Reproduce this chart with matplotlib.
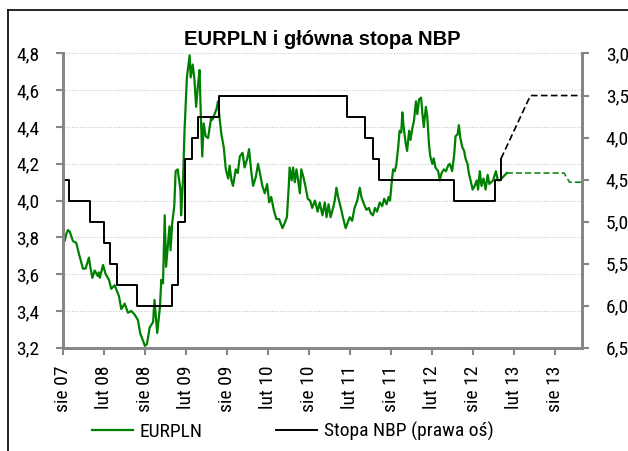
import matplotlib
matplotlib.use('Agg')
import matplotlib.pyplot as plt
import matplotlib.ticker as mticker
from matplotlib.lines import Line2D
import numpy as np
import pandas as pd

# EURPLN - odczyt z wykresu: miesiace od 2007-08-01 i kurs
eur_m = [0.0, 0.24, 0.5, 0.73, 1.0, 1.46, 1.95, 2.34, 2.7, 2.93, 3.3, 3.8, 4.0, 4.3, 4.64,
         5.1, 5.25, 5.4, 5.86, 6.25, 6.73, 7.07, 7.57, 8.2, 8.54, 9.03, 9.52, 10.0, 10.5,
         10.98, 11.3, 11.7, 12.0, 12.3, 12.7, 13.2, 13.4, 13.8, 14.2, 14.4, 14.65, 14.9,
         15.1, 15.6, 15.75, 16.0, 16.3, 16.5, 16.8, 17.2, 17.3, 17.6, 17.8, 18.15, 18.55,
         18.7, 19.0, 19.25, 19.5, 19.75, 20.0, 20.2, 20.4, 20.6, 20.9, 21.25, 21.5, 21.7,
         21.9, 22.2, 22.5, 22.7, 22.96, 23.2, 23.55, 23.85, 24.2, 24.4, 24.67, 24.9, 25.3,
         25.6, 25.9, 26.3, 26.6, 27.0, 27.25, 27.6, 27.85, 28.25, 28.57, 28.9, 29.2, 29.55,
         29.9, 30.2, 30.5, 30.87, 31.25, 31.65, 32.15, 32.5, 32.8, 33.07, 33.2, 33.5, 33.7,
         33.95, 34.2, 34.4, 34.7, 34.9, 35.2, 35.5, 35.85, 36.2, 36.5, 36.9, 37.3, 37.6,
         38.0, 38.35, 38.6, 38.9, 39.2, 39.56, 39.8, 40.05, 40.3, 40.7, 41.0, 41.4, 41.7,
         42.0, 42.35, 42.7, 43.1, 43.47, 43.7, 44.1, 44.45, 44.8, 45.1, 45.4, 45.7, 46.0,
         46.4, 46.75, 47.05, 47.4, 47.7, 47.9, 48.1, 48.35, 48.6, 48.8, 49.1, 49.3, 49.55,
         49.7, 49.9, 50.2, 50.4, 50.7, 50.9, 51.2, 51.4, 51.7, 51.9, 52.15, 52.45, 52.65,
         52.85, 53.15, 53.35, 53.6, 53.8, 54.1, 54.3, 54.55, 54.95, 55.2, 55.45, 55.8,
         56.1, 56.4, 56.66, 57.0, 57.3, 57.5, 57.8, 57.98, 58.2, 58.5, 58.76, 58.95, 59.25,
         59.44, 59.7, 60.0, 60.3, 60.6, 60.8, 61.05, 61.3, 61.6, 61.9, 62.2, 62.45, 62.7,
         63.0, 63.4, 63.7, 64.0, 64.5, 65.0]
eur_v = [3.81, 3.78, 3.82, 3.84, 3.83, 3.78, 3.77, 3.71, 3.66, 3.63, 3.63, 3.69, 3.64, 3.58, 3.62,
         3.59, 3.61, 3.58, 3.65, 3.60, 3.57, 3.52, 3.54, 3.48, 3.41, 3.44, 3.39, 3.40, 3.38,
         3.35, 3.28, 3.24, 3.21, 3.22, 3.31, 3.34, 3.46, 3.28, 3.42, 3.57, 3.55, 3.92,
         3.64, 3.86, 3.73, 3.88, 3.97, 4.16, 4.17, 4.06, 3.92, 4.13, 4.38, 4.67, 4.79,
         4.67, 4.74, 4.66, 4.51, 4.62, 4.71, 4.45, 4.24, 4.42, 4.35, 4.34, 4.40, 4.45,
         4.44, 4.47, 4.50, 4.54, 4.44, 4.36, 4.29, 4.17, 4.12, 4.19, 4.11, 4.08, 4.17,
         4.15, 4.24, 4.26, 4.18, 4.23, 4.28, 4.15, 4.08, 4.13, 4.20, 4.14, 4.08, 4.04,
         4.09, 3.99, 4.02, 3.95, 3.90, 3.90, 3.85, 3.88, 3.91, 4.08, 4.18, 4.11, 4.18,
         4.10, 4.17, 4.12, 4.04, 4.17, 4.13, 4.08, 4.01, 4.00, 3.96, 4.00, 3.94, 3.99,
         3.92, 3.99, 3.91, 3.98, 3.91, 3.96, 4.00, 4.07, 4.02, 3.96, 3.91, 3.85, 3.88,
         3.91, 3.89, 3.96, 4.00, 4.07, 4.02, 3.98, 3.95, 3.96, 3.93, 3.92, 3.96, 3.94,
         3.99, 3.97, 4.01, 3.98, 4.02, 4.00, 4.08, 4.17, 4.16, 4.19, 4.29, 4.38, 4.37,
         4.48, 4.40, 4.31, 4.27, 4.38, 4.33, 4.40, 4.43, 4.54, 4.47, 4.55, 4.56, 4.47,
         4.40, 4.51, 4.46, 4.31, 4.24, 4.20, 4.23, 4.18, 4.16, 4.11, 4.15, 4.17,
         4.16, 4.19, 4.20, 4.16, 4.25, 4.35, 4.36, 4.41, 4.34, 4.29, 4.27, 4.23, 4.20,
         4.15, 4.11, 4.06, 4.08, 4.11, 4.06, 4.16, 4.08, 4.12, 4.06, 4.14, 4.09, 4.10,
         4.11, 4.16, 4.11, 4.11, 4.13, 4.15]

# prognoza EURPLN (linia przerywana)
eur_fc_m = [65.0, 73.4, 74.2, 76.0]
eur_fc_v = [4.15, 4.15, 4.10, 4.10]

# stopa referencyjna NBP - daty zmian
nbp_dates = ['2007-08-01', '2007-08-30', '2007-11-29', '2008-01-31', '2008-02-28',
             '2008-03-27', '2008-06-26', '2008-11-27', '2008-12-24', '2009-01-28',
             '2009-02-26', '2009-03-26', '2009-06-25', '2011-01-20', '2011-04-07',
             '2011-05-12', '2011-06-09', '2012-05-10', '2012-11-08', '2012-12-05']
nbp_rate = [4.50, 4.75, 5.00, 5.25, 5.50, 5.75, 6.00, 5.75, 5.00, 4.25,
            4.00, 3.75, 3.50, 3.75, 4.00, 4.25, 4.50, 4.75, 4.50, 4.25]

# prognoza stopy
nbp_fc_dates = ['2012-12-05', '2013-04-15', '2013-12-01']
nbp_fc_rate = [4.25, 3.50, 3.50]

tick_dates = pd.date_range('2007-08-01', '2013-08-01', freq='6MS')
tick_labels = ['sie 07', 'lut 08', 'sie 08', 'lut 09', 'sie 09', 'lut 10', 'sie 10',
               'lut 11', 'sie 11', 'lut 12', 'sie 12', 'lut 13', 'sie 13']

start = pd.Timestamp('2007-08-01')
def months_to_dates(m):
    return start + pd.to_timedelta(np.array(m) * 30.4375, unit='D')

# waska czcionka zamiast Arial Narrow
plt.rcParams['font.family'] = ['Roboto Condensed', 'DejaVu Sans']

green = '#008000'
gray = '#868686'

fig = plt.figure(figsize=(6.28, 4.51), dpi=100)
ax = fig.add_axes([0.1003, 0.2290, 0.8265, 0.6524])
ax2 = ax.twinx()

ax.plot(months_to_dates(eur_m), eur_v, color=green, lw=1.6, label='EURPLN')
ax.plot(months_to_dates(eur_fc_m), eur_fc_v, color=green, lw=1.1, ls=(0, (4, 2)))

nd = list(pd.to_datetime(nbp_dates)) + [pd.Timestamp(nbp_fc_dates[0])]
nr = nbp_rate + [nbp_rate[-1]]
ax2.step(nd, nr, where='post', color='black', lw=1.4, label='Stopa NBP (prawa oś)')
ax2.plot(pd.to_datetime(nbp_fc_dates), nbp_fc_rate, color='black', lw=1.2, ls=(0, (4, 2)))

ax.set_xlim(pd.Timestamp('2007-08-01'), pd.Timestamp('2013-12-01'))
ax.set_ylim(3.2, 4.8)
ax.set_yticks(np.arange(3.2, 4.81, 0.2))
ax2.set_ylim(6.5, 3.0)
ax2.set_yticks(np.arange(3.0, 6.51, 0.5))

fmt = mticker.FuncFormatter(lambda v, p: f'{v:.1f}'.replace('.', ','))
ax.yaxis.set_major_formatter(fmt)
ax2.yaxis.set_major_formatter(fmt)

ax.set_xticks(tick_dates)
ax.set_xticklabels(tick_labels, rotation=90)

ax.yaxis.grid(True, linestyle=(0, (1, 1.5)), color='#c8c8c8', lw=0.8)
ax.set_axisbelow(True)

for a in (ax, ax2):
    a.spines['top'].set_visible(False)
    for s in ('left', 'right', 'bottom'):
        a.spines[s].set_color(gray)
        a.spines[s].set_linewidth(2)
    a.tick_params(axis='both', colors=gray, labelcolor='black', labelsize=14,
                  direction='out', length=5, width=1.5)
ax.tick_params(axis='y', pad=12)
ax2.tick_params(axis='y', pad=12)
ax.tick_params(axis='x', pad=8)

fig.text(0.513, 0.913, 'EURPLN i główna stopa NBP', ha='center', va='center',
         fontsize=14.5, fontweight='bold', family=['Liberation Sans', 'DejaVu Sans'])

h1, l1 = ax.get_legend_handles_labels()
h2, l2 = ax2.get_legend_handles_labels()
fig.legend(h1 + h2, l1 + l2, loc='center left', bbox_to_anchor=(0.146, 0.043),
           ncol=2, frameon=False, fontsize=14, handlelength=2.1, handletextpad=0.35,
           columnspacing=3.8, borderpad=0, borderaxespad=0)

# ramka wokol wykresu
fig.add_artist(Line2D([8 / 628, 1.0], [1 - 10 / 451, 1 - 10 / 451], color='black', lw=1.2))
fig.add_artist(Line2D([8 / 628, 8 / 628], [0, 1 - 10 / 451], color='black', lw=1.2))

fig.savefig('out.png', dpi=100)
